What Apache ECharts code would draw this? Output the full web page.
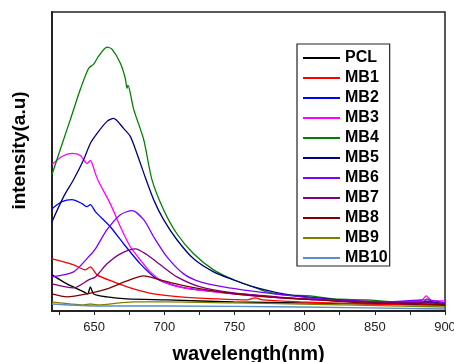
<!DOCTYPE html>
<html><head><meta charset="utf-8">
<script src="https://cdn.jsdelivr.net/npm/echarts@6/dist/echarts.min.js"></script>
<style>html,body{margin:0;padding:0;background:#fff}#c{width:454px;height:362px}</style>
</head><body><div id="c"></div>
<script>
const seriesNames = ['PCL','MB1','MB2','MB3','MB4','MB5','MB6','MB7','MB8','MB9','MB10'];
const xTicks = [625,650,675,700,725,750,775,800,825,850,875,900];
const xLabels = [650,700,750,800,850,900];

const PCL = [[620,36],[630.7,27],[642.6,19],[645.4,17],[647.3,24],[649.7,17],[659.2,14],[673.4,12],[701.9,11],[749.4,9],[796.9,8],[900,6]];
const MB1 = [[620,52],[628.3,49],[635.4,46],[643.7,41],[647.3,44],[652.1,36],[663.9,29],[678.2,22],[692.4,17],[711.4,14],[737.5,12],[758.9,11],[764.8,13],[770.8,11],[796.9,9],[844.4,7],[900,6]];
const MB2 = [[620,102],[627.1,109],[634.2,111],[641.4,107],[644.9,104],[647.3,106],[650.9,99],[661.5,84],[671,67],[682.9,47],[694.8,32],[711.4,24],[730.4,20],[754.1,17],[785,13],[820.6,11],[856.2,9],[887.1,9],[900,7]];
const MB3 = [[620,146],[627.1,154],[634.2,157],[640.2,155],[644.9,147],[647.3,150],[650.9,137],[653.2,129],[661.5,107],[668.7,84],[675.8,64],[682.9,51],[690,39],[699.5,29],[713.8,23],[730.4,20],[749.4,17],[773.1,14],[796.9,12],[820.6,11],[844.4,10],[868.1,9],[883.5,11],[886.6,15],[890.7,10],[900,10]];
const MB4 = [[620,136],[625.9,161],[633.1,191],[640.2,221],[646.1,242],[649.7,246],[653.2,254],[659.2,263],[662.7,261],[668.7,247],[672.2,232],[673.4,222],[674.1,225],[678.2,201],[685.3,171],[691.2,131],[699.5,101],[709,77],[720.9,57],[735.1,41],[749.4,31],[763.6,24],[773.1,19],[785,16],[804,15],[820.6,12],[844.4,11],[868.1,9],[884.8,9],[887.1,12],[890.7,9],[900,7]];
const MB5 = [[620,89],[628.3,114],[635.4,131],[642.6,151],[647.3,167],[653.2,179],[659.2,189],[663.9,192],[671,182],[675.8,174],[680.5,157],[686.5,133],[692.4,111],[699.5,91],[709,71],[720.9,52],[735.1,39],[749.4,31],[763.6,24],[785,17],[808.7,13],[844.4,9],[880,7],[887,9],[900,7]];
const MB6 = [[620,34],[635.4,39],[646.1,54],[650.9,62],[659.2,81],[668.7,96],[677,100],[685.3,91],[692.4,74],[701.9,54],[713.8,37],[725.7,29],[742.3,24],[761.3,20],[785,16],[820.6,11],[856.2,9],[887.1,11],[900,8]];
const MB7 = [[620,27],[635.4,23],[646.1,31],[650.9,34],[659.2,47],[668.7,57],[679.4,62],[687.7,56],[697.2,46],[709,34],[725.7,24],[749.4,18],[773.1,15],[808.7,11],[844.4,9],[887.1,8],[900,7]];
const MB8 = [[620,17],[630.7,14],[644.9,17],[659.2,22],[673.4,30],[685.3,35],[697.2,31],[711.4,26],[730.4,21],[749.4,17],[773.1,14],[808.7,11],[844.4,8],[887.1,7],[900,6]];
const MB9 = [[620,9],[642.6,6],[647.3,7],[652.1,6],[678.2,9],[701.9,9],[749.4,8],[796.9,7],[900,4]];
const MB10 = [[620,7],[654.4,5],[701.9,5],[796.9,4],[900,2]];

const allData = [PCL,MB1,MB2,MB3,MB4,MB5,MB6,MB7,MB8,MB9,MB10];
const colors = ['#000000','#ff0000','#0000ff','#ff00ff','#008000','#000080','#8000ff','#800080','#800000','#808000','#5b8cc4'];

const chart = echarts.init(document.getElementById('c'), null, {renderer:'canvas'});
chart.setOption({
  animation:false,
  grid:{left:52,right:9,top:12,bottom:51,show:true,borderColor:'#222',borderWidth:1.5,outerBoundsMode:'none',containLabel:false},
  legend:{
    data:seriesNames, orient:'vertical', left:297, top:44,
    padding:[6,2,0,6], itemGap:4, itemWidth:37, itemHeight:2, icon:'rect',
    borderColor:'#222', borderWidth:1.2, backgroundColor:'#fff',
    textStyle:{fontFamily:'Liberation Sans, Arial',fontWeight:'bold',fontSize:16,color:'#000',lineHeight:12}
  },
  xAxis:{
    type:'value', min:620, max:900,
    name:'wavelength(nm)', nameLocation:'middle', nameGap:33,
    nameTextStyle:{fontFamily:'Liberation Sans, Arial',fontWeight:'bold',fontSize:20,color:'#000'},
    axisLine:{show:true,lineStyle:{color:'#222',width:2}},
    axisTick:{show:true,length:4,customValues:xTicks,lineStyle:{color:'#222',width:1}},
    axisLabel:{customValues:xLabels,fontFamily:'Liberation Sans, Arial',fontSize:13,color:'#222',margin:10,hideOverlap:false},
    splitLine:{show:false}
  },
  yAxis:{
    type:'value', min:0, max:298,
    name:'intensity(a.u)', nameLocation:'middle', nameGap:23, nameRotate:90,
    nameTextStyle:{fontFamily:'Liberation Sans, Arial',fontWeight:'bold',fontSize:19,color:'#000',padding:[0,0,0,22]},
    axisLine:{show:true,lineStyle:{color:'#222',width:2}},
    axisTick:{show:false}, axisLabel:{show:false}, splitLine:{show:false}
  },
  series: seriesNames.map((n,i)=>({
    name:n, type:'line', data:allData[i], showSymbol:false, symbol:'none',
    smooth:0.25, lineStyle:{color:colors[i],width:1.3}, itemStyle:{color:colors[i]},
    z: 2
  }))
});
</script></body></html>
